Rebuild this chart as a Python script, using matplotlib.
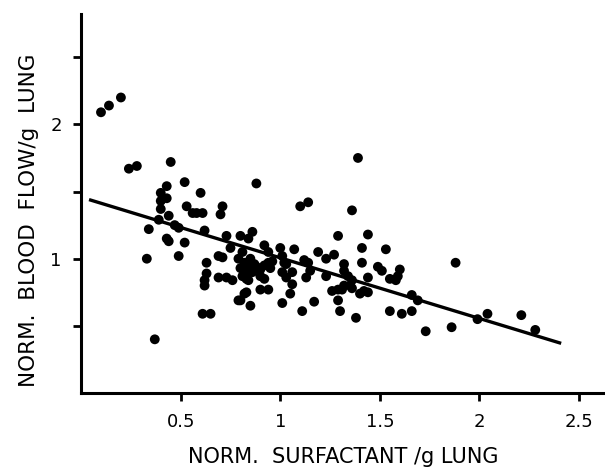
import matplotlib
matplotlib.use("Agg")
import matplotlib.pyplot as plt
import numpy as np

# surfactant (x) vs blood flow (y)
surfactant = [
    0.10, 0.14, 0.20, 0.24, 0.28, 0.45, 0.43, 0.40, 0.43, 0.40,
    0.40, 0.52, 0.53, 0.56, 0.58, 0.61, 0.60, 0.71, 0.70, 0.88,
    0.34, 0.39, 0.44, 0.47, 0.49, 0.43, 0.44, 0.52, 0.33, 0.49,
    0.37, 0.62, 0.63, 0.63, 0.62, 0.62, 0.61, 0.65, 0.69, 0.71,
    0.69, 0.73, 0.76, 0.73, 0.75, 0.80, 0.84, 0.86, 0.81, 0.82,
    0.83, 0.85, 0.81, 0.83, 0.84, 0.83, 0.80, 0.85, 0.86, 0.88,
    0.90, 0.92, 0.94, 0.90, 0.92, 0.92, 0.94, 0.90, 0.94, 1.00,
    1.01, 1.02, 1.01, 1.03, 1.06, 1.06, 1.05, 1.07, 1.01, 1.11,
    1.17, 1.10, 1.14, 1.14, 1.15, 1.13, 1.19, 1.23, 1.27, 1.23,
    1.26, 1.29, 1.32, 1.29, 1.30, 1.29, 1.32, 1.32, 1.34, 1.36,
    1.35, 1.36, 1.39, 1.41, 1.41, 1.40, 1.44, 1.38, 1.44, 1.44,
    1.49, 1.51, 1.53, 1.55, 1.58, 1.60, 1.59, 1.55, 1.61, 1.66,
    1.66, 1.69, 1.73, 1.86, 1.88, 1.99, 2.04, 2.21, 2.28,
    0.79, 0.82, 0.79, 0.83, 0.86, 0.80, 0.87, 0.95, 0.96, 1.03,
    1.12, 1.36, 1.31, 1.42, 0.82,
]
blood_flow = [
    2.09, 2.14, 2.20, 1.67, 1.69, 1.72, 1.54, 1.49, 1.45, 1.43,
    1.37, 1.57, 1.39, 1.34, 1.34, 1.34, 1.49, 1.39, 1.33, 1.56,
    1.22, 1.29, 1.32, 1.25, 1.23, 1.15, 1.13, 1.12, 1.00, 1.02,
    0.40, 1.21, 0.97, 0.89, 0.84, 0.80, 0.59, 0.59, 1.02, 1.01,
    0.86, 0.86, 0.84, 1.17, 1.08, 1.17, 1.15, 1.20, 1.05, 0.97,
    0.92, 1.00, 0.87, 0.85, 0.84, 0.75, 0.69, 0.65, 0.95, 0.94,
    0.92, 0.95, 0.97, 0.87, 0.85, 1.10, 1.05, 0.77, 0.77, 1.08,
    1.02, 0.97, 0.90, 0.86, 0.90, 0.81, 0.74, 1.07, 0.67, 0.61,
    0.68, 1.39, 1.42, 0.97, 0.91, 0.86, 1.05, 1.00, 1.03, 0.87,
    0.76, 0.77, 0.80, 0.69, 0.61, 1.17, 0.96, 0.91, 0.87, 0.84,
    0.80, 1.36, 1.75, 1.08, 0.97, 0.74, 0.75, 0.56, 0.86, 1.18,
    0.94, 0.91, 1.07, 0.85, 0.84, 0.92, 0.87, 0.61, 0.59, 0.61,
    0.73, 0.69, 0.46, 0.49, 0.97, 0.55, 0.59, 0.58, 0.47,
    0.69, 0.74, 1.00, 0.95, 0.90, 0.93, 0.96, 0.93, 0.98, 0.96,
    0.99, 0.78, 0.77, 0.76, 0.89,
]

# fitted regression line end points
fit_x = [0.04, 2.41]
fit_y = [1.44, 0.37]

x_ticks = [0.5, 1, 1.5, 2, 2.5]
x_labels = ["0.5", "1", "1.5", "2", "2.5"]
y_ticks = [0.5, 1, 1.5, 2, 2.5]
y_labels = ["", "1", "", "2", ""]

plt.rcParams["font.family"] = ["DejaVu Sans"]

fig = plt.figure(figsize=(6.05, 4.73), dpi=100)
ax = fig.add_axes([0.134, 0.169, 0.866, 0.801])

ax.scatter(surfactant, blood_flow, s=50, color="black", edgecolors="none", zorder=3)
ax.plot(fit_x, fit_y, color="black", lw=2.4, solid_capstyle="butt", zorder=2)

ax.set_xlim(0, 2.63)
ax.set_ylim(0, 2.82)
ax.spines["top"].set_visible(False)
ax.spines["right"].set_visible(False)
for side in ("left", "bottom"):
    ax.spines[side].set_linewidth(2.2)

ax.set_xticks(x_ticks)
ax.set_xticklabels(x_labels)
ax.set_yticks(y_ticks)
ax.set_yticklabels(y_labels)
ax.tick_params(direction="out", length=6, width=2, labelsize=13, pad=8)

ax.set_xlabel("NORM.  SURFACTANT /g LUNG", fontsize=15, labelpad=12)
ax.set_ylabel("NORM.  BLOOD  FLOW/g  LUNG", fontsize=15.5)
ax.yaxis.set_label_coords(-0.08, 0.455)

fig.savefig("out.png", dpi=100)
